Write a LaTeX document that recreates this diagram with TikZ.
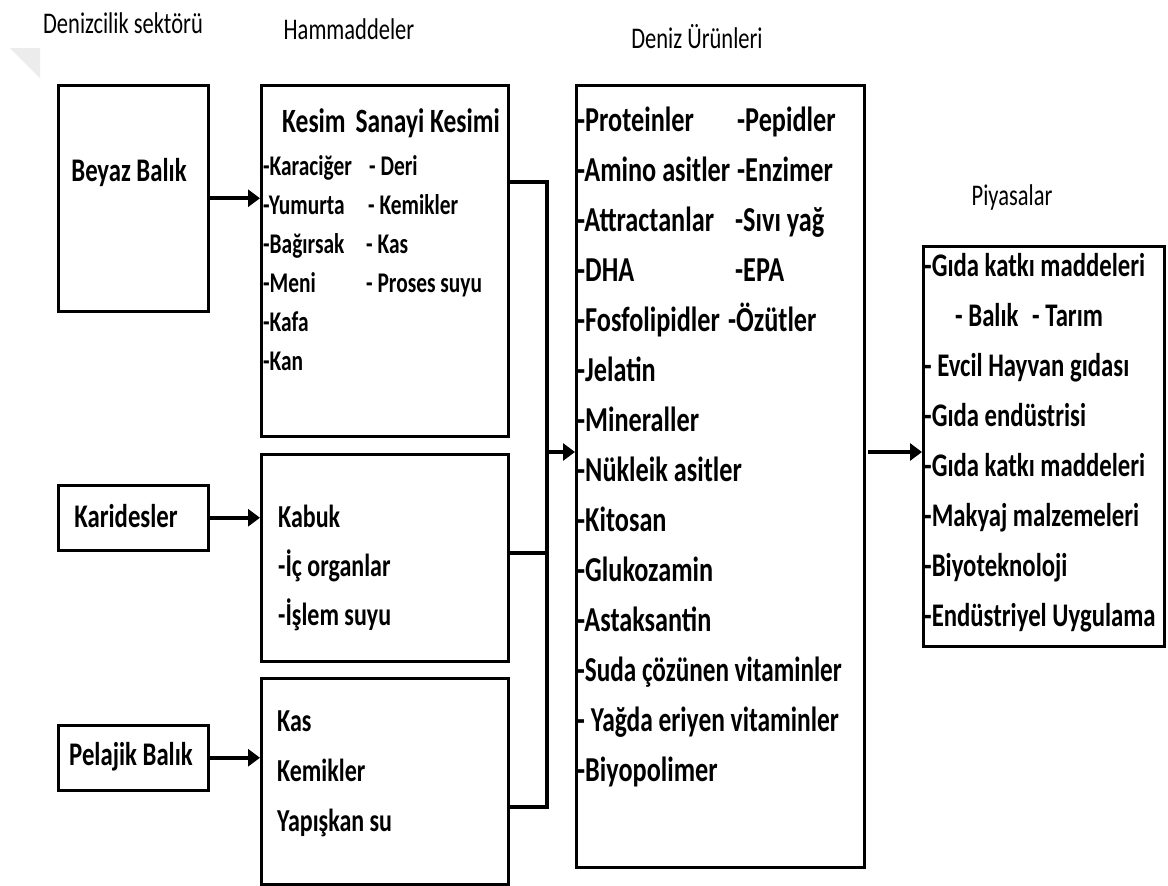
\documentclass[tikz,border=0pt]{standalone}
\usepackage{fontspec}
\setmainfont{Carlito}[FakeStretch=0.75]
\usetikzlibrary{arrows.meta}
\begin{document}
\begin{tikzpicture}[x=1pt,y=-1pt,
  box/.style={draw=black, line width=2.5pt, rectangle, inner sep=0pt, anchor=north west},
  conn/.style={draw=black, line width=4pt},
  arr/.style={conn, -{Triangle[length=12pt,width=17pt]}},
  hdr/.style={inner sep=0pt, font=\fontsize{30}{36}\selectfont},
  lbl/.style={inner sep=0pt, font=\bfseries\fontsize{33}{40}\selectfont},
  kitem/.style={anchor=base west, inner sep=0pt, font=\bfseries\fontsize{28.5}{32}\selectfont},
  khead/.style={anchor=base west, inner sep=0pt, font=\bfseries\fontsize{34}{40}\selectfont},
  ditem/.style={anchor=base west, inner sep=0pt, font=\bfseries\fontsize{35}{40}\selectfont},
  pitem/.style={anchor=base west, inner sep=0pt, font=\bfseries\fontsize{33}{40}\selectfont},
  bitem/.style={anchor=base west, inner sep=0pt, font=\bfseries\fontsize{32}{40}\selectfont},
]
\useasboundingbox[fill=white] (0,0) rectangle (1168,886);
\fill[gray!15] (10,48) -- (40,48) -- (40,78) -- cycle;

% headers
\node[hdr] (h1) at (123,23) {Denizcilik sektörü};
\node[hdr] (h2) at (349,29) {Hammaddeler};
\node[hdr] (h3) at (697,37) {Deniz Ürünleri};
\node[hdr] (h4) at (1012,198) {Piyasalar};

% boxes
\node[box, minimum width=150pt, minimum height=226pt] (beyaz) at (57,84) {};
\node[box, minimum width=247pt, minimum height=351pt] (kesim) at (260,84) {};
\node[box, minimum width=150pt, minimum height=65pt] (karides) at (57,484) {};
\node[box, minimum width=247pt, minimum height=207pt] (kabuk) at (260,453) {};
\node[box, minimum width=150pt, minimum height=65pt] (pelajik) at (57,724) {};
\node[box, minimum width=247pt, minimum height=206pt] (kas) at (260,677) {};
\node[box, minimum width=288pt, minimum height=782pt] (deniz) at (575,84) {};
\node[box, minimum width=241pt, minimum height=400pt] (piyasa) at (922,245) {};

% left labels
\node[lbl] (tbeyaz) at (129,173) {Beyaz Balık};
\node[lbl] (tkarides) at (126,516) {Karidesler};
\node[lbl] (tpelajik) at (131,757) {Pelajik Balık};

% Kesim box
\node[khead] (khd) at (282,132) {Kesim\hspace{0.12em} Sanayi Kesimi};
\foreach \t [count=\i] in {-Karaciğer,-Yumurta,-Bağırsak,-Meni,-Kafa,-Kan}
  \node[kitem] (kl\i) at (263,{175+39*(\i-1)}) {\t};
\foreach \t/\xx [count=\i] in {- Deri/369,- Kemikler/368,- Kas/366,- Proses suyu/366}
  \node[kitem] (kr\i) at (\xx,{175+39*(\i-1)}) {\t};

% Kabuk box
\foreach \t [count=\i] in {Kabuk,-İç organlar,-İşlem suyu}
  \node[bitem] (kb\i) at (278,{527+49*(\i-1)}) {\t};

% Kas box
\foreach \t [count=\i] in {Kas,Kemikler,Yapışkan su}
  \node[bitem] (ks\i) at (277,{731+50*(\i-1)}) {\t};

% Deniz box
\foreach \t [count=\i] in {-Proteinler,-Amino asitler,-Attractanlar,-DHA,-Fosfolipidler,-Jelatin,-Mineraller,-Nükleik asitler,-Kitosan,-Glukozamin,-Astaksantin}
  \node[ditem] (dl\i) at (577,{131+50*(\i-1)}) {\t};
\node[ditem] (dl12) at (577,681) {\scalebox{0.96}[1]{-Suda çözünen vitaminler}};
\node[ditem] (dl13) at (577,731) {\scalebox{0.97}[1]{- Yağda eriyen vitaminler}};
\node[ditem] (dl14) at (577,781) {-Biyopolimer};
\foreach \t/\xx [count=\i] in {-Pepidler/737,-Enzimer/737,-Sıvı yağ/735,-EPA/735,-Özütler/728}
  \node[ditem] (dr\i) at (\xx,{131+50*(\i-1)}) {\t};

% Piyasalar box
\node[pitem] (p1) at (924,276) {-Gıda katkı maddeleri};
\node[pitem] (p2a) at (955,326) {- Balık};
\node[pitem] (p2b) at (1032,326) {- Tarım};
\node[pitem] (p3) at (924,376) {- Evcil Hayvan gıdası};
\node[pitem] (p4) at (924,426) {-Gıda endüstrisi};
\node[pitem] (p5) at (924,476) {-Gıda katkı maddeleri};
\node[pitem] (p6) at (924,526) {-Makyaj malzemeleri};
\node[pitem] (p7) at (924,576) {-Biyoteknoloji};
\node[pitem] (p8) at (924,626) {-Endüstriyel Uygulama};

% connectors
\draw[arr] (beyaz.east) -- (beyaz.east -| kesim.west);
\draw[arr] (karides.east) -- (karides.east -| kabuk.west);
\draw[arr] (pelajik.east) -- (pelajik.east -| kas.west);

\coordinate (j1) at (547,182);
\coordinate (j2) at (547,553);
\coordinate (j3) at (547,807);
\coordinate (jm) at (547,452);
\coordinate (ds) at (868,452);
\draw[conn] (kesim.east |- j1) -- (j1) -- (j3) -- (kas.east |- j3);
\draw[conn] (kabuk.east |- j2) -- (j2);
\draw[arr] (jm) -- (jm -| deniz.west);
\draw[arr] (ds) -- (ds -| piyasa.west);
\end{tikzpicture}
\end{document}
